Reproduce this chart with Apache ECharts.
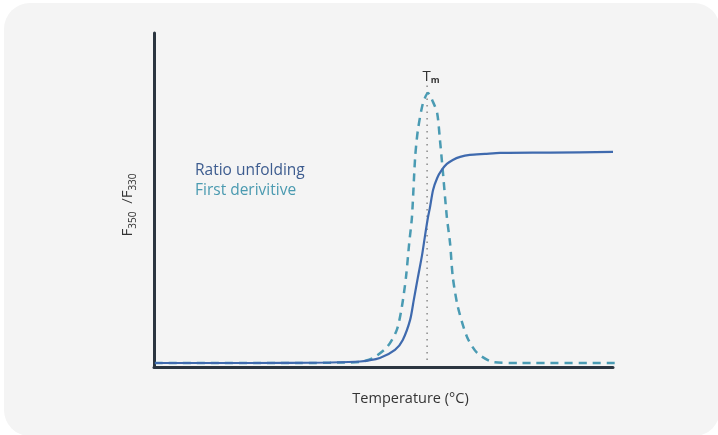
<!DOCTYPE html>
<html>
<head>
<meta charset="utf-8">
<script src="https://cdn.jsdelivr.net/npm/echarts@6/dist/echarts.min.js"></script>
<style>
html,body{margin:0;padding:0;background:#ffffff;}
#chart{width:718px;height:435px;}
</style>
</head>
<body>
<div id="chart"></div>
<script>
// Temperature (arbitrary units 0-100) and signal (arbitrary units 0-100)
const ratioTemp = [0.2, 20.9, 38.3, 44.9, 49.2, 52.5, 54.2, 55.8, 56.6, 57.5, 58.4, 59.0, 59.7, 60.1, 60.8, 61.7, 62.7, 63.8, 65.1, 66.7, 68.8, 72.1, 75.4, 86.3, 100];
const ratioValues = [1.2, 1.2, 1.35, 1.65, 2.7, 5.1, 8.1, 14.1, 20.1, 26.9, 33.5, 38.9, 44.9, 47.6, 53.0, 56.6, 59.0, 60.8, 62.0, 62.9, 63.5, 63.8, 64.1, 64.2, 64.4];
const derivTemp = [0.2, 31.8, 41.6, 44.9, 47.7, 50.8, 52.9, 54.0, 54.9, 55.6, 56.2, 56.9, 57.5, 58.6, 59.7, 60.8, 61.7, 62.3, 62.9, 63.8, 64.5, 65.1, 66.2, 68.2, 70.4, 73.9, 79.7, 100.6];
const derivValues = [1.2, 1.2, 1.35, 1.5, 2.7, 6.0, 11.1, 18.0, 26.9, 37.1, 44.9, 62.9, 71.0, 79.0, 82.0, 79.3, 76.0, 68.0, 59.0, 44.9, 37.1, 26.9, 18.0, 9.0, 4.2, 1.5, 1.2, 1.2];
const tmTemp = [59.5, 59.5];
const tmValues = [2.1, 84.4];
const seriesNames = ['Ratio unfolding', 'First derivitive'];
const xAxisName = 'Temperature (°C)';

const zip = (a, b) => a.map((v, i) => [v, b[i]]);

const chart = echarts.init(document.getElementById('chart'), null, {renderer: 'canvas'});
chart.setOption({
  backgroundColor: '#ffffff',
  animation: false,
  textStyle: {fontFamily: 'Open Sans'},
  graphic: [{
    type: 'rect', z: -10, silent: true,
    shape: {x: 4, y: 3, width: 716, height: 433, r: 26},
    style: {fill: '#f4f4f4'}
  }],
  legend: {
    left: 190, top: 163, orient: 'vertical', itemGap: 4, padding: 0,
    icon: 'none', itemWidth: 0, itemHeight: 15,
    textStyle: {fontSize: 15.5, fontFamily: 'Open Sans', padding: 0},
    data: [
      {name: seriesNames[0], textStyle: {color: '#3d5c8f'}},
      {name: seriesNames[1], textStyle: {color: '#4a9ab0'}}
    ]
  },
  grid: {left: 154, top: 33, right: 105, bottom: 68},
  xAxis: {
    type: 'value', min: 0, max: 100,
    name: xAxisName, nameLocation: 'middle', nameGap: 24,
    nameTextStyle: {color: '#333', fontSize: 14.5, fontFamily: 'Open Sans', padding: [0, 0, 0, 54]},
    axisLine: {show: true, lineStyle: {color: '#2b3540', width: 3}},
    axisTick: {show: false}, axisLabel: {show: false}, splitLine: {show: false}
  },
  yAxis: {
    type: 'value', min: 0, max: 100,
    name: '{a|F}{s|350}{a|  /F}{s|330}', nameLocation: 'middle', nameGap: 19, nameRotate: 90,
    nameTextStyle: {
      padding: [0, 10, 0, 0],
      rich: {
        a: {fontSize: 15, color: '#333', fontFamily: 'Open Sans', verticalAlign: 'bottom'},
        s: {fontSize: 10, color: '#333', fontFamily: 'Open Sans', verticalAlign: 'bottom', padding: [0,0,-3,0]}
      }
    },
    axisLine: {show: true, lineStyle: {color: '#2b3540', width: 3}},
    axisTick: {show: false}, axisLabel: {show: false}, splitLine: {show: false}
  },
  series: [
    {
      name: 'Tm', type: 'line', data: zip(tmTemp, tmValues), symbol: 'none',
      lineStyle: {color: '#8a8a8a', width: 1.5, type: [1.5, 5]},
      z: 1, clip: false,
      endLabel: {
        show: true, formatter: '{t|T}{m|m}', align: 'center', verticalAlign: 'bottom', offset: [-4, 0],
        rich: {
          t: {fontSize: 15, color: '#333', fontFamily: 'Open Sans'},
          m: {fontSize: 9, color: '#333', fontFamily: 'Open Sans', padding: [7,0,0,0], fontWeight: 'bold'}
        }
      }
    },
    {
      name: seriesNames[1], type: 'line', data: zip(derivTemp, derivValues), symbol: 'none',
      smooth: 0.25, clip: false,
      lineStyle: {color: '#4a9bb3', width: 2.5, type: [8, 6]},
      z: 2
    },
    {
      name: seriesNames[0], type: 'line', data: zip(ratioTemp, ratioValues), symbol: 'none',
      smooth: 0.25,
      lineStyle: {color: '#3f6aae', width: 2.2},
      z: 3
    }
  ]
});
</script>
</body>
</html>
